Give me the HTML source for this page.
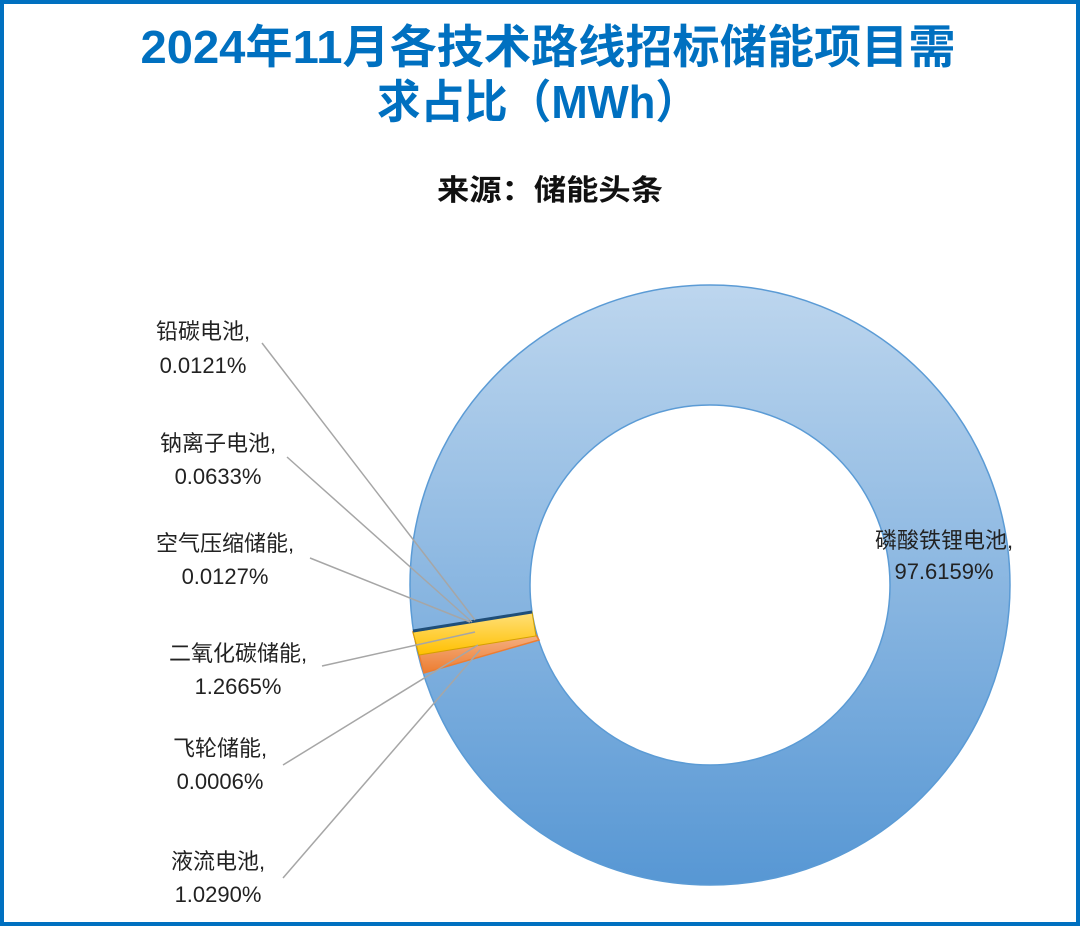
<!DOCTYPE html>
<html><head><meta charset="utf-8"><style>
body{margin:0;background:#fff}
.box{position:absolute;left:0;top:0;width:1072px;height:918px;border:4px solid #0070c0;background:#fff;overflow:hidden}
svg{position:absolute;left:0;top:0}
</style></head><body><div class="box"></div>
<svg width="1080" height="926" viewBox="0 0 1080 926" font-family="'Liberation Sans','Noto Sans CJK SC',sans-serif">
<defs>
<linearGradient id="g" x1="0" y1="0" x2="0" y2="1">
<stop offset="0" stop-color="#bdd6ee"/><stop offset="1" stop-color="#5797d4"/></linearGradient>
<linearGradient id="y" x1="0" y1="0" x2="0" y2="1"><stop offset="0" stop-color="#ffe07a"/><stop offset="1" stop-color="#ffc000"/></linearGradient>
<linearGradient id="o" x1="0" y1="0" x2="0" y2="1"><stop offset="0" stop-color="#f6b990"/><stop offset="1" stop-color="#ed7d31"/></linearGradient>
</defs>
<text x="548" y="63" text-anchor="middle" font-size="46" font-weight="bold" fill="#0070c0" textLength="815" lengthAdjust="spacingAndGlyphs">2024年11月各技术路线招标储能项目需</text>
<text x="538" y="118" text-anchor="middle" font-size="46" font-weight="bold" fill="#0070c0" textLength="322" lengthAdjust="spacingAndGlyphs">求占比（MWh）</text>
<text x="550" y="200" text-anchor="middle" font-size="29" font-weight="bold" fill="#111" textLength="226" lengthAdjust="spacingAndGlyphs">来源：储能头条</text>
<path d="M410,585 A300,300 0 1,1 1010,585 A300,300 0 1,1 410,585 Z M530,585 A180,180 0 1,0 890,585 A180,180 0 1,0 530,585 Z" fill="url(#g)" fill-rule="evenodd" stroke="#5b9bd5" stroke-width="1.5"/>
<polygon points="413,632 424,673 539,640 532,628" fill="url(#o)" stroke="#ed7d31" stroke-width="1.5"/>
<polygon points="413,632 419,655 536,636 532,612" fill="url(#y)" stroke="#d4a000" stroke-width="1"/>
<line x1="413" y1="631" x2="532" y2="612" stroke="#1f4e79" stroke-width="3"/>
<g stroke="#a6a6a6" stroke-width="1.5" fill="none">
<line x1="262" y1="343" x2="475" y2="620"/>
<line x1="287" y1="457" x2="472" y2="622"/>
<line x1="310" y1="558" x2="470" y2="622"/>
<line x1="322" y1="666" x2="475" y2="632"/>
<line x1="283" y1="765" x2="478" y2="645"/>
<line x1="283" y1="878" x2="480" y2="650"/>
</g>
<g font-size="22" fill="#222" text-anchor="middle">
<text x="203" y="339">铅碳电池,</text><text x="203" y="373">0.0121%</text>
<text x="218" y="451">钠离子电池,</text><text x="218" y="484">0.0633%</text>
<text x="225" y="551">空气压缩储能,</text><text x="225" y="584">0.0127%</text>
<text x="238" y="661">二氧化碳储能,</text><text x="238" y="694">1.2665%</text>
<text x="220" y="756">飞轮储能,</text><text x="220" y="789">0.0006%</text>
<text x="218" y="869">液流电池,</text><text x="218" y="902">1.0290%</text>
<text x="944" y="548">磷酸铁锂电池,</text><text x="944" y="579">97.6159%</text>
</g>
</svg></body></html>
